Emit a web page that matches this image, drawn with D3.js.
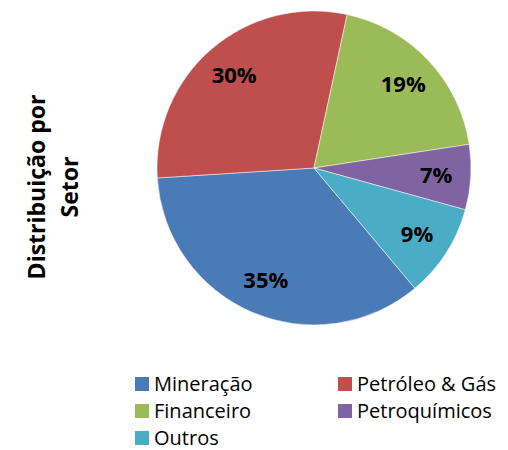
<!DOCTYPE html>
<html>
<head>
<meta charset="utf-8" />
<title>Distribuição por Setor</title>
<style>
html, body { margin: 0; padding: 0; background: #fff; }
#chart { width: 508px; height: 450px; }
</style>
</head>
<body>
<div id="chart"></div>
<script src="https://d3js.org/d3.v7.min.js"></script>
<script>
// dados
var setores = ["Mineração", "Petróleo & Gás", "Financeiro", "Petroquímicos", "Outros"]
var valores = [35.1, 29.4, 19.2, 6.7, 9.6]
var rotulos = ["35%", "30%", "19%", "7%", "9%"]
var cores = ["#4A7BB7", "#BE4F4C", "#9BBB59", "#8064A2", "#4BACC6"]

!(function(){
    "use strict"

    var width = 508, height = 450
    var cx = 314, cy = 168, radius = 157
    var font = "'Open Sans', sans-serif"

    var svg = d3.select("#chart").append("svg")
        .attr("width", width)
        .attr("height", height)

    var color = d3.scaleOrdinal().domain(setores).range(cores)

    var pie = d3.pie()
        .sort(null)
        .startAngle(140 * Math.PI / 180)
        .endAngle(500 * Math.PI / 180)
        .value(function(d){ return d.v })

    var data = setores.map(function(s, i){ return { nome: s, v: valores[i], rot: rotulos[i] } })
    var arcs = pie(data)

    var arc = d3.arc().innerRadius(0).outerRadius(radius)
    var labelArc = d3.arc().innerRadius(radius * 0.78).outerRadius(radius * 0.78)

    var g = svg.append("g").attr("transform", "translate(" + [cx, cy] + ")")

    g.selectAll("path")
        .data(arcs)
        .enter().append("path")
        .attr("d", arc)
        .attr("fill", function(d){ return color(d.data.nome) })
        .attr("stroke", "#fff")
        .attr("stroke-width", 0.5)

    g.selectAll("text")
        .data(arcs)
        .enter().append("text")
        .attr("transform", function(d){ return "translate(" + labelArc.centroid(d) + ")" })
        .attr("text-anchor", "middle")
        .attr("dy", ".35em")
        .attr("font-family", font)
        .attr("font-weight", "bold")
        .attr("font-size", "22px")
        .attr("fill", "#000")
        .text(function(d){ return d.data.rot })

    // titulo vertical
    var titulo = svg.append("text")
        .attr("transform", "translate(" + [0, 187] + ") rotate(-90)")
        .attr("text-anchor", "middle")
        .attr("font-family", font)
        .attr("font-weight", "bold")
        .attr("font-size", "23px")
        .attr("fill", "#000")
    titulo.append("tspan").attr("x", 0).attr("y", 45).text("Distribuição por")
    titulo.append("tspan").attr("x", 0).attr("y", 78).text("Setor")

    // legenda
    var legX = [135, 338], legY = [384, 411, 438]
    var leg = svg.append("g").selectAll("g")
        .data(setores)
        .enter().append("g")
        .attr("transform", function(d, i){
            return "translate(" + [legX[i % 2], legY[Math.floor(i / 2)]] + ")"
        })
    leg.append("rect")
        .attr("x", 0).attr("y", -7)
        .attr("width", 14).attr("height", 14)
        .attr("fill", function(d){ return color(d) })
    leg.append("text")
        .attr("x", 19)
        .attr("dy", ".35em")
        .attr("font-family", font)
        .attr("font-size", "20px")
        .attr("fill", "#000")
        .text(function(d){ return d })
}());
</script>
</body>
</html>
